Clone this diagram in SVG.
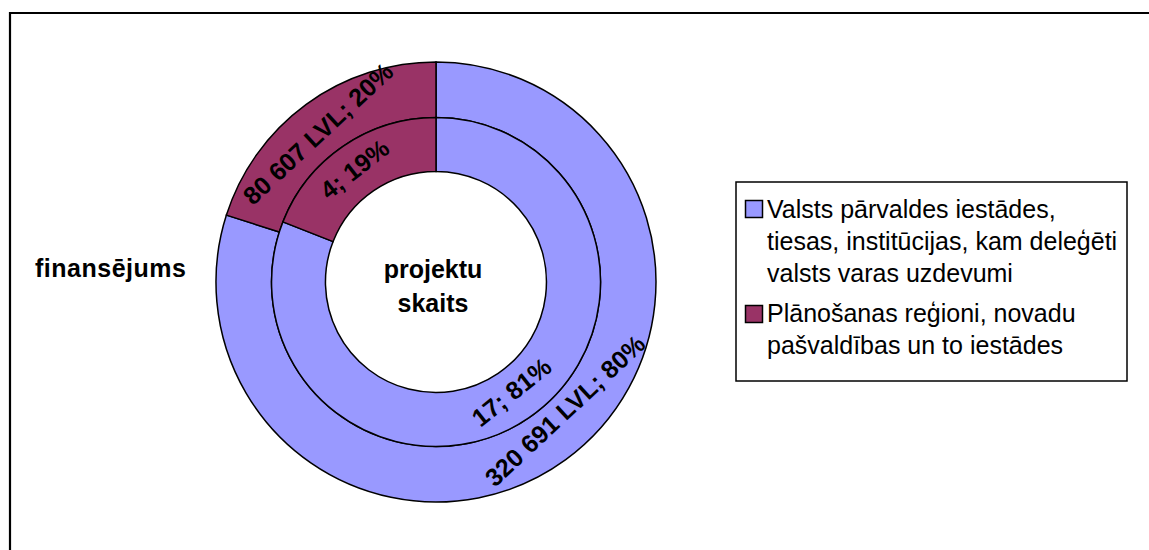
<svg xmlns="http://www.w3.org/2000/svg" width="1149" height="550" viewBox="0 0 1149 550">
<style>
.blue{fill:#9999FF;stroke:#000;stroke-width:1.5}
.mar{fill:#993366;stroke:#000;stroke-width:1.5}
.lbl{font-family:"Liberation Sans",Arial,sans-serif;font-size:25px;font-weight:bold;fill:#000}
.leg{font-family:"Liberation Sans",Arial,sans-serif;font-size:25px;fill:#000}
</style>
<rect x="0" y="0" width="1149" height="550" fill="#fff"/>
<path d="M10 550 V13 H1149" fill="none" stroke="#000" stroke-width="2.2"/>
<g id="outer-ring">
<path class="blue" d="M436 62 A220 220 0 1 1 226.4 215.1 L279.3 232 A164.5 164.5 0 1 0 436 117.5 Z"/>
<path class="mar" d="M226.4 215.1 A220 220 0 0 1 436 62 L436 117.5 A164.5 164.5 0 0 0 279.3 232 Z"/>
</g>
<g id="inner-ring">
<path class="blue" d="M436 117.5 A164.5 164.5 0 1 1 282.9 221.9 L333.1 241.6 A110.5 110.5 0 1 0 436 171.5 Z"/>
<path class="mar" d="M282.9 221.9 A164.5 164.5 0 0 1 436 117.5 L436 171.5 A110.5 110.5 0 0 0 333.1 241.6 Z"/>
</g>
<g id="ring-labels">
<text class="lbl" text-anchor="middle" transform="translate(324 140) rotate(-43)">80 607 LVL; 20%</text>
<text class="lbl" text-anchor="middle" transform="translate(360 176) rotate(-38)">4; 19%</text>
<text class="lbl" text-anchor="middle" transform="translate(517 399) rotate(-38.5)">17; 81%</text>
<text class="lbl" text-anchor="middle" transform="translate(571 417) rotate(-43)">320 691 LVL; 80%</text>
</g>
<g id="series-labels">
<text class="lbl" x="35" y="277" textLength="151" lengthAdjust="spacing">finansējums</text>
<text class="lbl" x="433" y="278" text-anchor="middle">projektu</text>
<text class="lbl" x="433" y="312" text-anchor="middle">skaits</text>
</g>
<g id="legend">
<rect x="736" y="182" width="391" height="199" fill="#fff" stroke="#000" stroke-width="1.5"/>
<rect class="blue" x="745.5" y="200.5" width="17" height="17" stroke-width="1.2"/>
<rect class="mar" x="745.5" y="305.5" width="17" height="17" stroke-width="1.2"/>
<text class="leg" x="767" y="218">Valsts pārvaldes iestādes,</text>
<text class="leg" x="767" y="250">tiesas, institūcijas, kam deleģēti</text>
<text class="leg" x="767" y="282">valsts varas uzdevumi</text>
<text class="leg" x="767" y="322">Plānošanas reģioni, novadu</text>
<text class="leg" x="767" y="354">pašvaldības un to iestādes</text>
</g>
</svg>
